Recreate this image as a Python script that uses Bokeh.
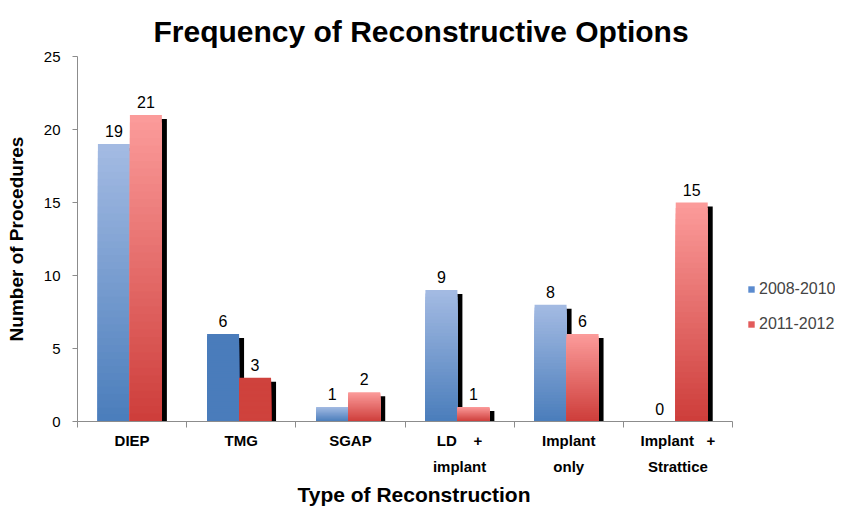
from bokeh.plotting import figure
from bokeh.models import ColumnDataSource, FixedTicker, Legend, LegendItem, Range1d, Title
from bokeh.embed import file_html
from bokeh.resources import INLINE
from bokeh.core.properties import value

NB = "\u00a0"
categories = ["DIEP", "TMG", "SGAP", "LD" + NB * 4 + "+\nimplant", "Implant\nonly",
              "Implant" + NB * 3 + "+\nStrattice"]
series_names = ["2008-2010", "2011-2012"]
values_2008_2010 = [19, 6, 1, 9, 8, 0]
values_2011_2012 = [21, 3, 2, 1, 6, 15]
y_ticks = [0, 5, 10, 15, 20, 25]

FONT = "Liberation Sans"
W, H = 835, 509
LEFT, AX_RIGHT = 77, 732          # pixel extent of the category axis
n_cat = len(categories)
x_end = n_cat * (W - LEFT) / (AX_RIGHT - LEFT)

p = figure(width=W, height=H, output_backend="svg", toolbar_location=None,
           x_range=Range1d(0, x_end), y_range=Range1d(0, 25),
           min_border_left=LEFT, min_border_right=0, min_border_top=56, min_border_bottom=H - 421)
p.outline_line_color = None
p.xgrid.visible = False
p.ygrid.visible = False
p.background_fill_color = "white"
p.border_fill_color = "white"

p.title.text = "Frequency of Reconstructive Options"
p.title.align = "left"
p.title.offset = 76
p.title.text_font = FONT
p.title.text_font_size = "30px"
p.title.text_font_style = "bold"
p.title.text_color = "black"
p.title.standoff = 18

BAR_W = 0.293
SHIFT = -0.02
DX = 5 / 109.2
DY = 4 / 14.56

palettes = {
    0: ((74, 125, 187), (164, 187, 227)),
    1: ((205, 61, 58), (252, 156, 155)),
}
solid = {0: "#4a7cbb", 1: "#cf423d"}
solid_cats = {1}

def mix(c0, c1, t):
    return "#%02x%02x%02x" % tuple(int(round(a + (b - a) * t)) for a, b in zip(c0, c1))

sh = dict(left=[], right=[], top=[], bottom=[])
sl = dict(left=[], right=[], top=[], bottom=[], color=[])
lab = dict(x=[], y=[], text=[])
N = 40
for s, vals in enumerate([values_2008_2010, values_2011_2012]):
    for i, v in enumerate(vals):
        c = i + 0.5 + SHIFT
        left = c - BAR_W if s == 0 else c
        right = left + BAR_W
        lab["x"].append((left + right) / 2)
        lab["y"].append(v)
        lab["text"].append(str(v))
        if v <= 0:
            continue
        sh["left"].append(left + DX)
        sh["right"].append(right + DX)
        sh["top"].append(v - DY)
        sh["bottom"].append(-0.08)
        dark, light = palettes[s]
        for k in reversed(range(N)):
            sl["left"].append(left)
            sl["right"].append(right)
            sl["bottom"].append(0)
            sl["top"].append(v * (k + 1) / N)
            if i in solid_cats:
                sl["color"].append(solid[s])
            else:
                sl["color"].append(mix(dark, light, (k + 0.5) / N))

p.quad(left="left", right="right", top="top", bottom="bottom", source=ColumnDataSource(sh),
       fill_color="black", line_color=None)
p.quad(left="left", right="right", top="top", bottom="bottom", source=ColumnDataSource(sl),
       fill_color="color", line_color=None)
p.text(x="x", y="y", text="text", source=ColumnDataSource(lab),
       text_font=value(FONT), text_font_size="16px", text_align="center",
       text_baseline="bottom", y_offset=-7, text_color="black")

# x axis
xa = p.xaxis[0]
xa.bounds = (0, n_cat)
xa.ticker = FixedTicker(ticks=[i + 0.5 for i in range(n_cat)], minor_ticks=list(range(n_cat + 1)))
xa.major_label_overrides = {i + 0.5: categories[i] for i in range(n_cat)}
xa.major_tick_line_color = None
xa.minor_tick_line_color = "#8c8c8c"
xa.minor_tick_in = 0
xa.minor_tick_out = 6
xa.axis_line_color = "#8c8c8c"
xa.major_label_text_font = FONT
xa.major_label_text_font_size = "15px"
xa.major_label_text_font_style = "bold"
xa.major_label_text_color = "black"
xa.major_label_text_line_height = 1.55
xa.major_label_standoff = 4

xt = Title(text="Type of Reconstruction", align="left", offset=220,
           text_font=FONT, text_font_size="21px", text_font_style="bold",
           text_color="black", standoff=6)
p.add_layout(xt, "below")

ya = p.yaxis[0]
ya.ticker = FixedTicker(ticks=y_ticks)
ya.minor_tick_line_color = None
ya.major_tick_in = 0
ya.major_tick_out = 5
ya.major_tick_line_color = "#8c8c8c"
ya.axis_line_color = "#8c8c8c"
ya.major_label_text_font = FONT
ya.major_label_text_font_size = "15px"
ya.major_label_text_color = "black"
ya.major_label_standoff = 12
ya.axis_label = "Number of Procedures"
ya.axis_label_text_font = FONT
ya.axis_label_text_font_size = "19px"
ya.axis_label_text_font_style = "bold"
ya.axis_label_text_color = "black"
ya.axis_label_standoff = 14

# legend (inside the extended frame, right of the category axis)
nan = float("nan")
e = dict(left=[nan], right=[nan], top=[nan], bottom=[nan])
r1 = p.quad(left="left", right="right", top="top", bottom="bottom", source=ColumnDataSource(e),
            fill_color="#5b8bcf", line_color=None)
r2 = p.quad(left="left", right="right", top="top", bottom="bottom", source=ColumnDataSource(dict(e)),
            fill_color="#e25b5b", line_color=None)
legend = Legend(items=[LegendItem(label=series_names[0], renderers=[r1]),
                       LegendItem(label=series_names[1], renderers=[r2])],
                location=(747 - LEFT, 88), orientation="vertical",
                glyph_width=8, glyph_height=8, label_height=16, label_standoff=4,
                spacing=17, padding=0, margin=0,
                border_line_color=None, background_fill_alpha=0,
                label_text_font=FONT, label_text_font_size="16px")
p.add_layout(legend, "center")

open("out.html", "w").write(file_html(p, INLINE))
